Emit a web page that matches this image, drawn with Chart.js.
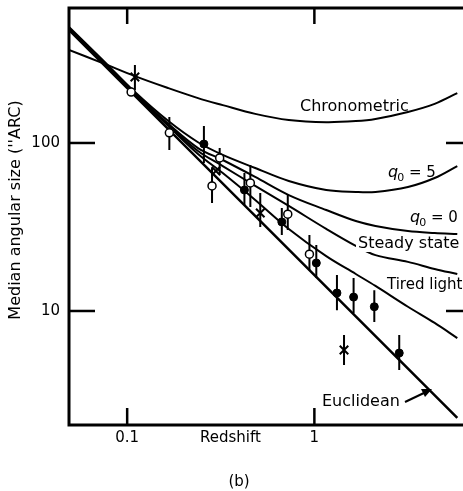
<!DOCTYPE html>
<html>

<head>
  <meta charset="utf-8">
  <title>Angular size vs redshift</title>
  <style>
    html,
    body {
      margin: 0;
      padding: 0;
      background: #fff;
      overflow: hidden;
    }

    .wrap {
      width: 463px;
      height: 491px;
      overflow: hidden;
    }
  </style>
</head>

<body>
  <div class="wrap"><canvas id="chart" width="480" height="491"></canvas></div>

  <script src="https://cdn.jsdelivr.net/npm/chart.js"></script>

  <script>
    // redshift grid for the model curves
    const curveZ = [0.0489, 0.074, 0.11, 0.166, 0.239, 0.324, 0.483, 0.73, 1.157, 1.664, 2.12, 3.16, 4.39, 5.8];
    const chronometric = [358, 299, 250, 212, 185, 168, 149, 137, 133, 135, 139, 153, 171, 198];
    const qFive = [490, 312, 201, 135, 101, 85, 71, 59.4, 52.5, 51.1, 51.1, 54.7, 61.9, 72.9];
    const qZero = [484, 308, 198, 130, 93.3, 79.2, 62.8, 49.0, 39.9, 34.3, 32.1, 29.9, 29.1, 28.7];
    const steadyState = [480, 305, 196, 128, 89.6, 72.9, 55.5, 42.2, 30.8, 24.4, 21.5, 19.6, 17.8, 16.6];
    const tiredLight = [477, 303, 195, 126, 86.0, 66.2, 45.8, 30.8, 21.2, 16.6, 14.1, 10.6, 8.49, 6.90];
    const euclidZ = [0.0489, 5.8];
    const euclidean = [470, 2.31];

    // measured medians, with error bar ends
    const openZ = [0.105, 0.168, 0.284, 0.312, 0.455, 0.721, 0.941];
    const openTheta = [201, 115, 55.5, 81.5, 57.8, 37.7, 21.8];
    const openLo = [null, 90.8, 44, 65, 41.6, 30.3, 17.5];
    const openHi = [null, 143, 71, 93.3, 74, 49, 28.3];

    const fillZ = [0.257, 0.423, 0.670, 1.024, 1.32, 1.62, 2.09, 2.84];
    const fillTheta = [98.6, 52.5, 33.9, 19.3, 12.8, 12.1, 10.6, 5.62];
    const fillLo = [76, 42.8, 28.3, 15.7, 10.1, 9.7, 8.6, 4.45];
    const fillHi = [126, 66.2, 41, 24.7, 16.4, 15.7, 13.3, 7.19];

    const crossZ = [0.110, 0.298, 0.514, 1.44];
    const crossTheta = [247, 68.1, 38.3, 5.86];
    const crossLo = [207, null, 31.6, 4.77];
    const crossHi = [291, null, 50.4, 7.19];

    const xTicks = [0.1, 1];
    const yTicks = [10, 100];

    const FONT = '"DejaVu Sans", sans-serif';

    const xy = (xs, ys) => xs.map((x, i) => ({ x, y: ys[i] }));

    // all error bars in one dataset, split by null points
    function bars(zs, lo, hi) {
      const out = [];
      zs.forEach((z, i) => {
        if (lo[i] == null) return;
        out.push({ x: z, y: lo[i] }, { x: z, y: hi[i] }, { x: z, y: null });
      });
      return out;
    }

    const curve = (label, data, width) => ({
      label, data, borderColor: '#000', borderWidth: width || 2,
      pointRadius: 0, fill: false, tension: 0.35, order: 5
    });

    function text(ctx, s, x, y, font, align) {
      ctx.font = font;
      ctx.textAlign = align || 'left';
      ctx.fillText(s, x, y);
    }

    // q0 = n label: italic q, subscript 0
    function qLabel(ctx, n, x, y) {
      ctx.textAlign = 'left';
      ctx.font = 'italic 16px ' + FONT;
      ctx.fillText('q', x, y);
      let w = ctx.measureText('q').width;
      ctx.font = '11px ' + FONT;
      ctx.fillText('0', x + w - 1, y + 4);
      w += ctx.measureText('0').width;
      ctx.font = '15px ' + FONT;
      ctx.fillText(' = ' + n, x + w - 1, y);
    }

    const frame = {
      id: 'frame',
      afterDraw(chart) {
        const { ctx, chartArea: a, scales: { x, y } } = chart;
        const seg = (x1, y1, x2, y2) => {
          ctx.beginPath(); ctx.moveTo(x1, y1); ctx.lineTo(x2, y2); ctx.stroke();
        };
        ctx.save();
        ctx.strokeStyle = '#000';
        ctx.fillStyle = '#000';
        ctx.lineWidth = 3;
        ctx.beginPath();
        ctx.moveTo(a.right, a.top);
        ctx.lineTo(a.left, a.top);
        ctx.lineTo(a.left, a.bottom);
        ctx.lineTo(a.right, a.bottom);
        ctx.stroke();

        ctx.lineWidth = 2.5;
        xTicks.forEach(v => {
          const px = x.getPixelForValue(v);
          seg(px, a.bottom, px, a.bottom - 17);
          seg(px, a.top, px, a.top + 16);
          text(ctx, String(v), px, a.bottom + 17, '15px ' + FONT, 'center');
        });
        yTicks.forEach(v => {
          const py = y.getPixelForValue(v);
          seg(a.left, py, a.left + 26, py);
          seg(a.right, py, a.right - 26, py);
          ctx.textBaseline = 'middle';
          text(ctx, String(v), a.left - 9, py, '15px ' + FONT, 'right');
          ctx.textBaseline = 'alphabetic';
        });

        text(ctx, 'Redshift', 200, a.bottom + 17, '15px ' + FONT);
        text(ctx, '(b)', 239, 486, '15px ' + FONT, 'center');

        ctx.save();
        ctx.translate(20, 210);
        ctx.rotate(-Math.PI / 2);
        text(ctx, "Median angular size (''ARC)", 0, 0, '16px ' + FONT, 'center');
        ctx.restore();

        // curve names
        text(ctx, 'Chronometric', 300, 111, '16px ' + FONT);
        qLabel(ctx, 5, 388, 177);
        qLabel(ctx, 0, 410, 222);
        ctx.fillStyle = '#fff';
        ctx.fillRect(356, 236, 110, 16);
        ctx.fillStyle = '#000';
        text(ctx, 'Steady state', 358, 248, '16px ' + FONT);
        text(ctx, 'Tired light', 387, 289, '15px ' + FONT);
        text(ctx, 'Euclidean', 322, 406, '16px ' + FONT);

        // arrow from the Euclidean label to its line
        ctx.lineWidth = 2;
        seg(405, 402, 426, 392);
        ctx.beginPath();
        ctx.moveTo(432, 389);
        ctx.lineTo(421, 389);
        ctx.lineTo(425, 397);
        ctx.closePath();
        ctx.fill();
        ctx.restore();
      }
    };

    new Chart(document.getElementById('chart'), {
      type: 'line',
      data: {
        datasets: [
          {
            label: 'open', data: xy(openZ, openTheta), showLine: false,
            pointStyle: 'circle', pointRadius: 4, pointBorderWidth: 1.5,
            pointBackgroundColor: '#fff', pointBorderColor: '#000', order: 1
          },
          {
            label: 'filled', data: xy(fillZ, fillTheta), showLine: false,
            pointStyle: 'circle', pointRadius: 4, pointBorderWidth: 1,
            pointBackgroundColor: '#000', pointBorderColor: '#000', order: 1
          },
          {
            label: 'cross', data: xy(crossZ, crossTheta), showLine: false,
            pointStyle: 'crossRot', pointRadius: 6, pointBorderWidth: 2,
            pointBorderColor: '#000', order: 1
          },
          {
            label: 'bars',
            data: [...bars(openZ, openLo, openHi), ...bars(fillZ, fillLo, fillHi), ...bars(crossZ, crossLo, crossHi)],
            borderColor: '#000', borderWidth: 2, pointRadius: 0, spanGaps: false, order: 3
          },
          curve('Chronometric', xy(curveZ, chronometric)),
          curve('q0 = 5', xy(curveZ, qFive)),
          curve('q0 = 0', xy(curveZ, qZero)),
          curve('Steady state', xy(curveZ, steadyState)),
          curve('Tired light', xy(curveZ, tiredLight)),
          curve('Euclidean', xy(euclidZ, euclidean), 2.5)
        ]
      },
      options: {
        responsive: false,
        animation: false,
        events: [],
        layout: { padding: { left: 69, top: 8, right: 2, bottom: 66 } },
        plugins: { legend: { display: false }, tooltip: { enabled: false } },
        scales: {
          x: { type: 'logarithmic', min: 0.0489, max: 6.95, display: false },
          y: { type: 'logarithmic', min: 2.096, max: 636, display: false }
        }
      },
      plugins: [frame]
    });
  </script>
</body>

</html>
